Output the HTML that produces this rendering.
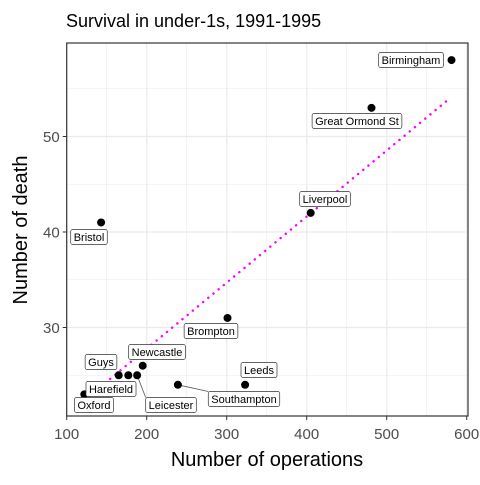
<!DOCTYPE html>
<html><head><meta charset="utf-8"><style>
body{margin:0;background:#fff;width:480px;height:480px;overflow:hidden}
svg text{font-family:"Liberation Sans",Arial,sans-serif}
</style></head><body>
<svg id="chart" width="480" height="480" xmlns="http://www.w3.org/2000/svg">
<rect width="480" height="480" fill="#fff"/>
<text x="66" y="27" font-size="18" fill="#000">Survival in under-1s, 1991-1995</text>
<g id="grid"></g>
<g id="trend"></g>
<g id="leaders"></g>
<g id="points"></g>
<g id="labels"></g>
<rect x="66.7" y="43" width="401.3" height="373" fill="none" stroke="#333" stroke-width="1.2"/>
<g id="axes"></g>
<text x="267" y="466" font-size="20" text-anchor="middle">Number of operations</text>
<text transform="translate(27,230) rotate(-90)" font-size="20" text-anchor="middle">Number of death</text>
</svg>
<script>
const hospitals=["Birmingham","Great Ormond St","Liverpool","Bristol","Brompton","Leeds","Southampton","Newcastle","Guys","Leicester","Harefield","Oxford"];
const operations=[581,481,405,143,301,323,239,195,165,188,177,122];
const deaths=[58,53,42,41,31,24,24,26,25,25,25,23];
const xTicks=[100,200,300,400,500,600];
const yTicks=[30,40,50];
const xMinor=[150,250,350,450,550];
const yMinor=[25,35,45,55];
// label placement (pixel centers, styling)
const labelPos=[[411,60],[357,121],[325,199],[89,237],[211,331],[259,370],[244,399],[157,352],[101,362],[171,405],[111,389],[94,405]];

const NS="http://www.w3.org/2000/svg";
const X=v=>66.7+(v-100)*0.8;
const Y=v=>232-(v-40)*9.55;
const L=66.7,R=468,T=43,B=416;
function mk(tag,attrs,parent){const e=document.createElementNS(NS,tag);for(const k in attrs)e.setAttribute(k,attrs[k]);parent.appendChild(e);return e;}
const grid=document.getElementById('grid');
xMinor.forEach(v=>{const e=mk('line',{x1:X(v),x2:X(v),y1:T,y2:B,stroke:'#ebebeb','stroke-width':0.6},grid);

});
yMinor.forEach(v=>{const e=mk('line',{x1:L,x2:R,y1:Y(v),y2:Y(v),stroke:'#ebebeb','stroke-width':0.6},grid);

});
xTicks.forEach(v=>{const e=mk('line',{x1:X(v),x2:X(v),y1:T,y2:B,stroke:'#ebebeb','stroke-width':1.2},grid);

});
yTicks.forEach(v=>{const e=mk('line',{x1:L,x2:R,y1:Y(v),y2:Y(v),stroke:'#ebebeb','stroke-width':1.2},grid);

});
// regression line
const n=operations.length;const mx=operations.reduce((a,b)=>a+b)/n,my=deaths.reduce((a,b)=>a+b)/n;
let sxy=0,sxx=0;for(let i=0;i<n;i++){sxy+=(operations[i]-mx)*(deaths[i]-my);sxx+=(operations[i]-mx)**2;}
const b=sxy/sxx,a=my-b*mx;const x0=Math.min(...operations),x1=Math.max(...operations)-6;
const tl=mk('line',{x1:X(x0),y1:Y(a+b*x0),x2:X(x1),y2:Y(a+b*x1),stroke:'#ff00ff','stroke-width':2.4,'stroke-dasharray':'0.1 6.6','stroke-linecap':'round'},document.getElementById('trend'));


const pts=document.getElementById('points'),lab=document.getElementById('labels'),lead=document.getElementById('leaders');
hospitals.forEach((h,i)=>{
 const px=X(operations[i]),py=Y(deaths[i]);
 const [cx,cy]=labelPos[i];
 const c=mk('circle',{cx:px,cy:py,r:4,fill:'#000'},pts);
 
 
 const g=mk('g',{},lab);
 
 
 const r=mk('rect',{y:cy-7.5,height:15,rx:2,fill:'#fff',stroke:'#333','stroke-width':0.7},g);
 const t=mk('text',{x:cx,y:cy+4,'font-size':11,'text-anchor':'middle',fill:'#000'},g);t.textContent=h;
 const w=t.getComputedTextLength()+6;
 r.setAttribute('x',cx-w/2);r.setAttribute('width',w);
 const dx=Math.max(0,Math.abs(px-cx)-w/2),dy=Math.max(0,Math.abs(py-cy)-7.5);
 if(Math.hypot(dx,dy)>12){
  const ex=Math.max(cx-w/2,Math.min(cx+w/2,px)),ey=Math.max(cy-7.5,Math.min(cy+7.5,py));
  const s=mk('line',{x1:px,y1:py,x2:ex,y2:ey,stroke:'#555','stroke-width':0.8},lead);
  
  
 }
});
const ax=document.getElementById('axes');
xTicks.forEach(v=>{mk('line',{x1:X(v),x2:X(v),y1:B,y2:B+4,stroke:'#333'},ax);
 const t=mk('text',{x:X(v),y:B+23,'font-size':15,'text-anchor':'middle',fill:'#4d4d4d'},ax);t.textContent=v;
 
 });
yTicks.forEach(v=>{mk('line',{x1:L-4,x2:L,y1:Y(v),y2:Y(v),stroke:'#333'},ax);
 const t=mk('text',{x:L-7,y:Y(v)+5.5,'font-size':15,'text-anchor':'end',fill:'#4d4d4d'},ax);t.textContent=v;
 
 });
</script>
</body></html>
